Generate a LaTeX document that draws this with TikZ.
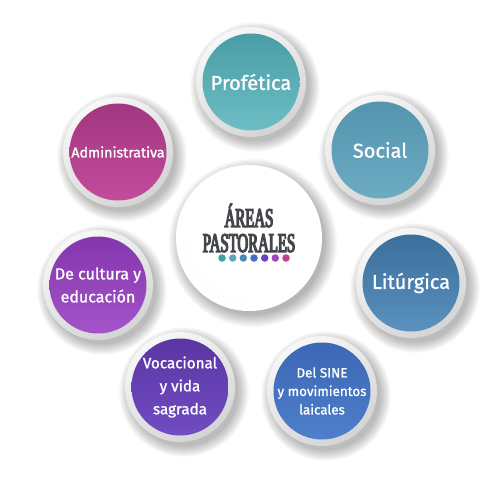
\documentclass[tikz,border=0pt]{standalone}
\usepackage{fontspec}
\newfontfamily\labfont[FakeBold=1.2]{Fira Sans}
\newfontfamily\titfont[FakeStretch=0.55,FakeBold=4.5]{Liberation Serif}
\definecolor{ringlight}{HTML}{F7F7F7}
\definecolor{ringdark}{HTML}{D4D4D4}
\definecolor{titlegray}{HTML}{45464A}
\definecolor{cgA}{HTML}{F2F2F2}
\definecolor{cgB}{HTML}{D6D6D6}
\definecolor{profA}{HTML}{4A9CA6}\definecolor{profB}{HTML}{6DBEC4}
\definecolor{socA}{HTML}{5594AE}\definecolor{socB}{HTML}{6CABC2}
\definecolor{litA}{HTML}{3B6F9C}\definecolor{litB}{HTML}{5A91BE}
\definecolor{sinA}{HTML}{3C67B4}\definecolor{sinB}{HTML}{4D7FCB}
\definecolor{vocA}{HTML}{5A36A4}\definecolor{vocB}{HTML}{714CC2}
\definecolor{culA}{HTML}{8436AC}\definecolor{culB}{HTML}{A453CA}
\definecolor{admA}{HTML}{A23680}\definecolor{admB}{HTML}{C24C9C}
\definecolor{dotA}{HTML}{3FA0A8}\definecolor{dotB}{HTML}{5AA8C0}
\definecolor{dotC}{HTML}{4A88B8}\definecolor{dotD}{HTML}{3F70C8}
\definecolor{dotE}{HTML}{6A40C0}\definecolor{dotF}{HTML}{A045C0}
\definecolor{dotG}{HTML}{C0408E}
\pgfdeclareradialshading{centershade}{\pgfpoint{10bp}{10bp}}{color(0bp)=(white); color(28bp)=(white); color(44bp)=(cgA); color(50bp)=(cgB)}
\tikzset{
  ringnode/.style={circle, minimum size=110pt, inner sep=0pt, top color=ringlight, bottom color=ringdark, shading angle=30},
  corenode/.style={circle, minimum size=97pt, inner sep=0pt, shading angle=30},
  labnode/.style={text=white, align=center, inner sep=0pt},
  dotnode/.style={circle, minimum size=7.5pt, inner sep=0pt},
}
\newcommand\mybubble[7]{%
  \foreach \k in {1,...,9}{\fill[black,opacity=0.03,shift={(#2,#3)}] (4,5) circle ({53+\k*1.3});}
  \node[ringnode] (#1r) at (#2,#3) {};
  \node[corenode, top color=#4, bottom color=#5] (#1c) at (#2,#3) {};
  \node[labnode, font=\labfont#6] (#1) at (#2,#3) {#7};
}
\begin{document}
\begin{tikzpicture}[x=1pt,y=-1pt]
\useasboundingbox (0,0) rectangle (500,500);
\fill[white] (0,0) rectangle (500,500);
% center
\foreach \k in {1,...,10}{\fill[black,opacity=0.03] (253,243) circle ({70+\k*1.4});}
\node[circle, minimum size=146pt, inner sep=0pt, fill=white] (centerring) at (249,238) {};
\node[circle, minimum size=131pt, inner sep=0pt, shading=centershade] (centercore) at (249,238) {};
\node[font=\titfont\fontsize{27}{25}\selectfont, text=titlegray, align=center, inner sep=0pt] (title) at (249,228) {ÁREAS\\PASTORALES};
\node[dotnode, fill=dotA] (d1) at (222,258) {};
\node[dotnode, fill=dotB] (d2) at (232.7,258) {};
\node[dotnode, fill=dotC] (d3) at (243.3,258) {};
\node[dotnode, fill=dotD] (d4) at (254,258) {};
\node[dotnode, fill=dotE] (d5) at (264.7,258) {};
\node[dotnode, fill=dotF] (d6) at (275.3,258) {};
\node[dotnode, fill=dotG] (d7) at (286,258) {};
% satellites
\mybubble{prof}{251}{82}{profA}{profB}{\fontsize{20}{23}\selectfont}{Profética}
\mybubble{soc}{380}{150}{socA}{socB}{\fontsize{20}{23}\selectfont}{Social}
\mybubble{adm}{118}{152}{admA}{admB}{\fontsize{14.2}{20}\selectfont}{Administrativa}
\mybubble{lit}{411}{283}{litA}{litB}{\fontsize{20}{23}\selectfont}{Litúrgica}
\mybubble{cul}{98}{285}{culA}{culB}{\fontsize{16}{23}\selectfont}{De cultura y\\educación}
\mybubble{voc}{180}{387}{vocA}{vocB}{\fontsize{15.2}{23}\selectfont}{Vocacional\\y vida\\sagrada}
\mybubble{sin}{322}{391}{sinA}{sinB}{\fontsize{13.4}{18.5}\selectfont}{Del SINE\\y movimientos\\laicales}
\end{tikzpicture}
\end{document}
